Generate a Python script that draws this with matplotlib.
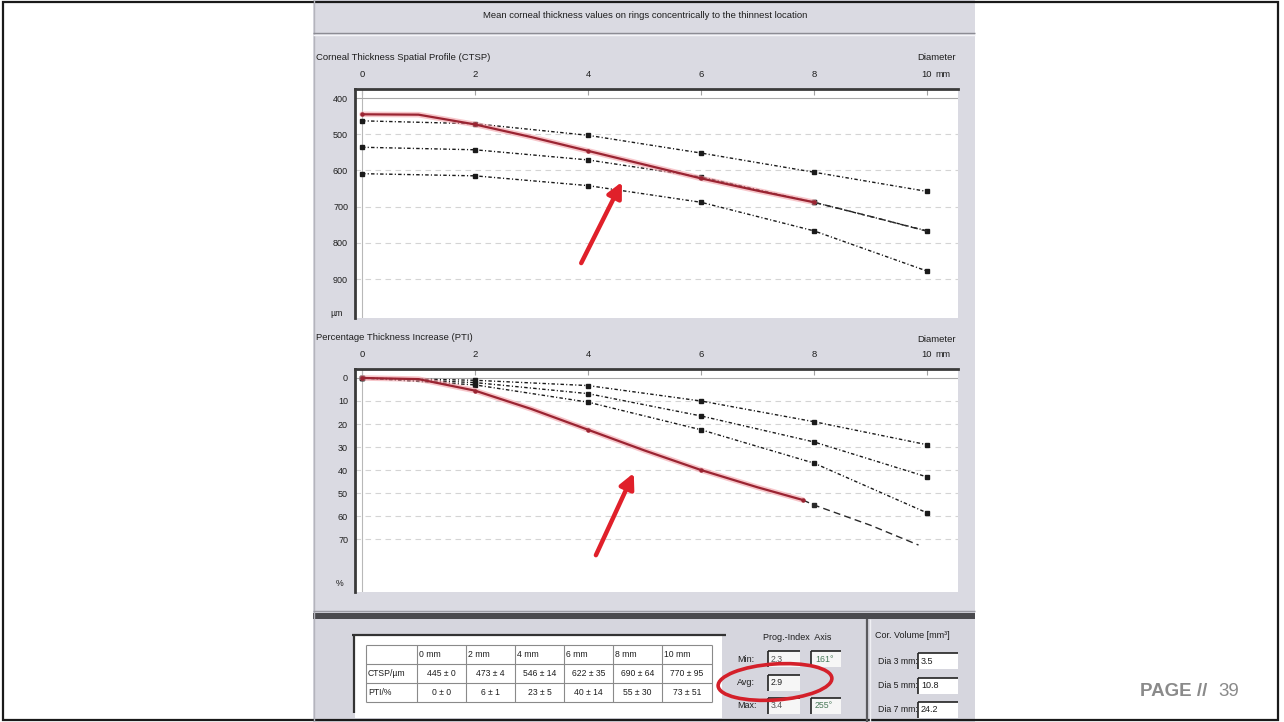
import numpy as np
import matplotlib
matplotlib.use("Agg")
from matplotlib import pyplot as plt
from matplotlib.patches import Rectangle, Ellipse

plt.rcParams['font.family'] = ['Liberation Sans', 'DejaVu Sans']

# ---- data ----
diam_ticks = [0, 2, 4, 6, 8, 10]

# CTSP (um): three normal reference curves (dotted) at the even diameters
ctsp_top = [463, 471, 503, 552, 605, 658]
ctsp_mid = [536, 543, 571, 618, 688, 767]
ctsp_bot = [609, 615, 642, 688, 767, 878]
# patient curve (red) and its dashed continuation
ctsp_red_x = [0, 1, 2, 3, 4, 5, 6, 7, 8]
ctsp_red_y = [445, 446, 473, 508, 546, 584, 622, 656, 688]
ctsp_ext_x = [8, 9, 10]
ctsp_ext_y = [688, 727, 768]

# PTI (%)
pti_top = [0, 1, 3.3, 10, 19, 29]
pti_mid = [0, 2, 6.8, 16.5, 27.8, 43]
pti_bot = [0, 3, 10.5, 22.5, 37, 58.6]
pti_red_x = [0, 1, 2, 3, 4, 5, 6, 7, 7.8]
pti_red_y = [0, 0.5, 5.5, 13.5, 22.5, 31.5, 40, 47.5, 53]
pti_ext_x = [7.8, 8, 9, 9.85]
pti_ext_y = [53, 55.2, 64, 72.6]

# table under the charts
table_cols = ['0 mm', '2 mm', '4 mm', '6 mm', '8 mm', '10 mm']
ctsp_mean = [445, 473, 546, 622, 690, 770]
ctsp_sd = [0, 4, 14, 35, 64, 95]
pti_mean = [0, 6, 23, 40, 55, 73]
pti_sd = [0, 1, 5, 14, 30, 51]

prog_rows = ['Min:', 'Avg:', 'Max:']
prog_index = ['2.3', '2.9', '3.4']
prog_axis = ['161°', '', '255°']

vol_labels = ['Dia 3 mm:', 'Dia 5 mm:', 'Dia 7 mm:']
vol_values = ['3.5', '10.8', '24.2']

W, H = 1284, 722
GRAY = '#dadae2'
fig = plt.figure(figsize=(W / 100, H / 100), dpi=100)
fig.patch.set_facecolor('white')

# background axes in pixel coordinates (y down)
bg = fig.add_axes([0, 0, 1, 1], zorder=0)
bg.set_xlim(0, W)
bg.set_ylim(H, 0)
bg.axis('off')


def box(x0, y0, x1, y1, **kw):
    bg.add_patch(Rectangle((x0, y0), x1 - x0, y1 - y0, **kw))


def hline(y, x0, x1, c, lw=1.0):
    bg.plot([x0, x1], [y, y], color=c, lw=lw, solid_capstyle='butt')


def vline(x, y0, y1, c, lw=1.0):
    bg.plot([x, x], [y0, y1], color=c, lw=lw, solid_capstyle='butt')


def txt(x, y, s, size=6.8, **kw):
    kw.setdefault('color', '#1e1e1e')
    kw.setdefault('va', 'center')
    bg.text(x, y, s, fontsize=size, **kw)


# screenshot panel
box(313, 0, 975, 722, facecolor=GRAY, edgecolor='none')
vline(313.5, 0, 722, '#b4b4bc')
txt(645, 15, 'Mean corneal thickness values on rings concentrically to the thinnest location', ha='center')
hline(33, 313, 975, '#8c8c94', 1.0)
hline(34.5, 313, 975, '#f4f4f8', 1.0)

# chart titles
txt(316, 57, 'Corneal Thickness Spatial Profile (CTSP)')
txt(956, 57, 'Diameter', ha='right')
txt(316, 338, 'Percentage Thickness Increase (PTI)')
txt(956, 340, 'Diameter', ha='right')

# bottom strip
box(313, 612, 975, 722, facecolor='#d6d6de', edgecolor='none')
hline(611, 313, 975, '#9a9aa2', 1.0)
box(313, 613, 975, 619, facecolor='#4a4a4e', edgecolor='none')
vline(867, 619, 722, '#5a5a5e', 1.6)
vline(870, 619, 722, '#f0f0f4', 1.0)

# table
box(355, 636, 722, 718, facecolor='white', edgecolor='none')
hline(634.5, 352, 726, '#333333', 1.6)
vline(353.5, 634, 713, '#333333', 1.6)
col_edges = [366, 417, 466, 515, 564, 613, 662, 712]
row_edges = [645, 664, 683, 702]
for y in row_edges:
    hline(y, col_edges[0], col_edges[-1], '#8a8a8a', 0.8)
for x in col_edges:
    vline(x, row_edges[0], row_edges[-1], '#8a8a8a', 0.8)
row_mid = [(row_edges[i] + row_edges[i + 1]) / 2 for i in range(3)]
for i, c in enumerate(table_cols):
    txt(col_edges[i + 1] + 2, row_mid[0], c, size=6.2)
txt(368, row_mid[1], 'CTSP/µm', size=6.2)
txt(368, row_mid[2], 'PTI/%', size=6.2)
for i in range(len(table_cols)):
    cx = (col_edges[i + 1] + col_edges[i + 2]) / 2
    txt(cx, row_mid[1], f'{ctsp_mean[i]} ± {ctsp_sd[i]}', size=6.2, ha='center')
    txt(cx, row_mid[2], f'{pti_mean[i]} ± {pti_sd[i]}', size=6.2, ha='center')

# prog-index group
txt(797, 637, 'Prog.-Index  Axis', ha='center', size=6.5)
for i, lab in enumerate(prog_rows):
    yc = 659 + i * 23.5
    txt(737, yc, lab, size=6.5)
    box(768, yc - 8, 800, yc + 8, facecolor='#f6f6f6', edgecolor='none')
    hline(yc - 8, 768, 800, '#222222', 1.2)
    vline(768, yc - 8, yc + 8, '#222222', 1.2)
    txt(771, yc, prog_index[i], size=6.3, color='#555555' if i != 1 else '#222222')
    if prog_axis[i]:
        box(811, yc - 8, 841, yc + 8, facecolor='#f6f6f6', edgecolor='none')
        hline(yc - 8, 811, 841, '#222222', 1.2)
        vline(811, yc - 8, yc + 8, '#222222', 1.2)
        txt(815, yc, prog_axis[i], size=6.3, color='#4a7a5a')

# corneal volume group
txt(875, 635, 'Cor. Volume [mm³]', size=6.5)
for i, lab in enumerate(vol_labels):
    yc = 661 + i * 24.5
    txt(878, yc, lab, size=6.3)
    box(918, yc - 8, 958, yc + 8, facecolor='white', edgecolor='none')
    hline(yc - 8, 918, 958, '#222222', 1.2)
    vline(918, yc - 8, yc + 8, '#222222', 1.2)
    txt(921, yc, vol_values[i], size=6.5)

# page number
bg.text(1140, 696, 'PAGE //', fontsize=13.5, fontweight='bold', color='#8a8a8a', va='baseline')
bg.text(1218, 696, '39', fontsize=13.5, color='#8a8a8a', va='baseline')

# slide border
box(3, 1.5, 1278, 720, facecolor='none', edgecolor='#1a1a1a', lw=1.6)

# ---- chart axes ----
X0, PXMM = 362, 56.5


def chart(y0, y1, ylim):
    x0, x1 = 355, 958
    ax = fig.add_axes([x0 / W, 1 - y1 / H, (x1 - x0) / W, (y1 - y0) / H], zorder=2)
    ax.set_xlim((x0 - X0) / PXMM, (x1 - X0) / PXMM)
    ax.set_ylim(*ylim)
    ax.set_facecolor('white')
    for s in ['right', 'bottom']:
        ax.spines[s].set_visible(False)
    for s in ['left', 'top']:
        ax.spines[s].set_color('#3a3a3a')
        ax.spines[s].set_linewidth(2.0)
    ax.set_xticks(diam_ticks)
    ax.set_xticklabels([])
    ax.tick_params(axis='x', top=True, bottom=False, direction='in', length=4,
                   width=0.8, color='#a0a0a0')
    ax.tick_params(axis='y', length=0, pad=5, labelsize=6.5, labelcolor='#1e1e1e')
    for t in diam_ticks:
        ax.text(t, 1 + 10 / (y1 - y0), str(t), transform=ax.get_xaxis_transform(),
                ha='center', va='bottom', fontsize=6.8, color='#1e1e1e')
    ax.text(10.15, 1 + 10 / (y1 - y0), 'mm', transform=ax.get_xaxis_transform(),
            ha='left', va='bottom', fontsize=6.5, color='#1e1e1e')
    ax.axvline(0, color='#b8b8b8', lw=0.8)
    return ax


def curves(ax, dotted, red_x, red_y, ext_x, ext_y):
    for ys in dotted:
        ax.plot(diam_ticks, ys, color='#1a1a1a', lw=1.0, ls=(0, (2.5, 1.6, 0.8, 1.6)),
                marker='s', ms=2.8, zorder=4)
    ax.plot(ext_x, ext_y, color='#2a2a2a', lw=1.0, ls=(0, (5, 3)), marker='s',
            ms=2.6, markevery=[1] if len(ext_x) > 3 else [0], zorder=4)
    ax.plot(red_x, red_y, color='#f2a0a8', lw=4.0, alpha=0.6, zorder=5,
            solid_capstyle='round')
    ax.plot(red_x, red_y, color='#9a2432', lw=1.6, zorder=6, marker='o', ms=2.2,
            markevery=list(range(0, len(red_x), 2)))


# CTSP chart
ax1 = chart(89, 318, (1007.7, 375.1))
ax1.set_yticks([400, 500, 600, 700, 800, 900])
ax1.axhline(400, color='#a8a8a8', lw=0.8)
for g in [500, 600, 700, 800, 900]:
    ax1.axhline(g, color='#d4d4d4', lw=0.8, ls=(0, (5, 4)))
ax1.text(-0.02, 0.02, 'µm', transform=ax1.transAxes, ha='right', va='center',
         fontsize=6.3, color='#1e1e1e')
curves(ax1, [ctsp_top, ctsp_mid, ctsp_bot], ctsp_red_x, ctsp_red_y, ctsp_ext_x, ctsp_ext_y)
ax1.annotate('', xy=(4.60, 632), xytext=(3.88, 856),
             arrowprops=dict(arrowstyle='-|>,head_length=0.9,head_width=0.45',
                             color='#e0202a', lw=3.2, shrinkA=0, shrinkB=0),
             zorder=8)

# PTI chart
ax2 = chart(369, 592, (93.0, -3.9))
ax2.set_yticks([0, 10, 20, 30, 40, 50, 60, 70])
ax2.axhline(0, color='#a8a8a8', lw=0.8)
for g in [10, 20, 30, 40, 50, 60, 70]:
    ax2.axhline(g, color='#d4d4d4', lw=0.8, ls=(0, (5, 4)))
ax2.text(-0.02, 0.036, '%', transform=ax2.transAxes, ha='right', va='center',
         fontsize=6.3, color='#1e1e1e')
curves(ax2, [pti_top, pti_mid, pti_bot], pti_red_x, pti_red_y, pti_ext_x, pti_ext_y)
ax2.annotate('', xy=(4.81, 41.3), xytext=(4.14, 77),
             arrowprops=dict(arrowstyle='-|>,head_length=0.9,head_width=0.45',
                             color='#e0202a', lw=3.2, shrinkA=0, shrinkB=0),
             zorder=8)

# overlay for the red ellipse around the average index
ov = fig.add_axes([0, 0, 1, 1], zorder=10)
ov.set_xlim(0, W)
ov.set_ylim(H, 0)
ov.axis('off')
ov.patch.set_alpha(0)
ov.add_patch(Ellipse((775, 682), 114, 36, angle=-4, facecolor='none',
                     edgecolor='#d4202a', lw=2.6))

fig.savefig('out.png', dpi=100)
